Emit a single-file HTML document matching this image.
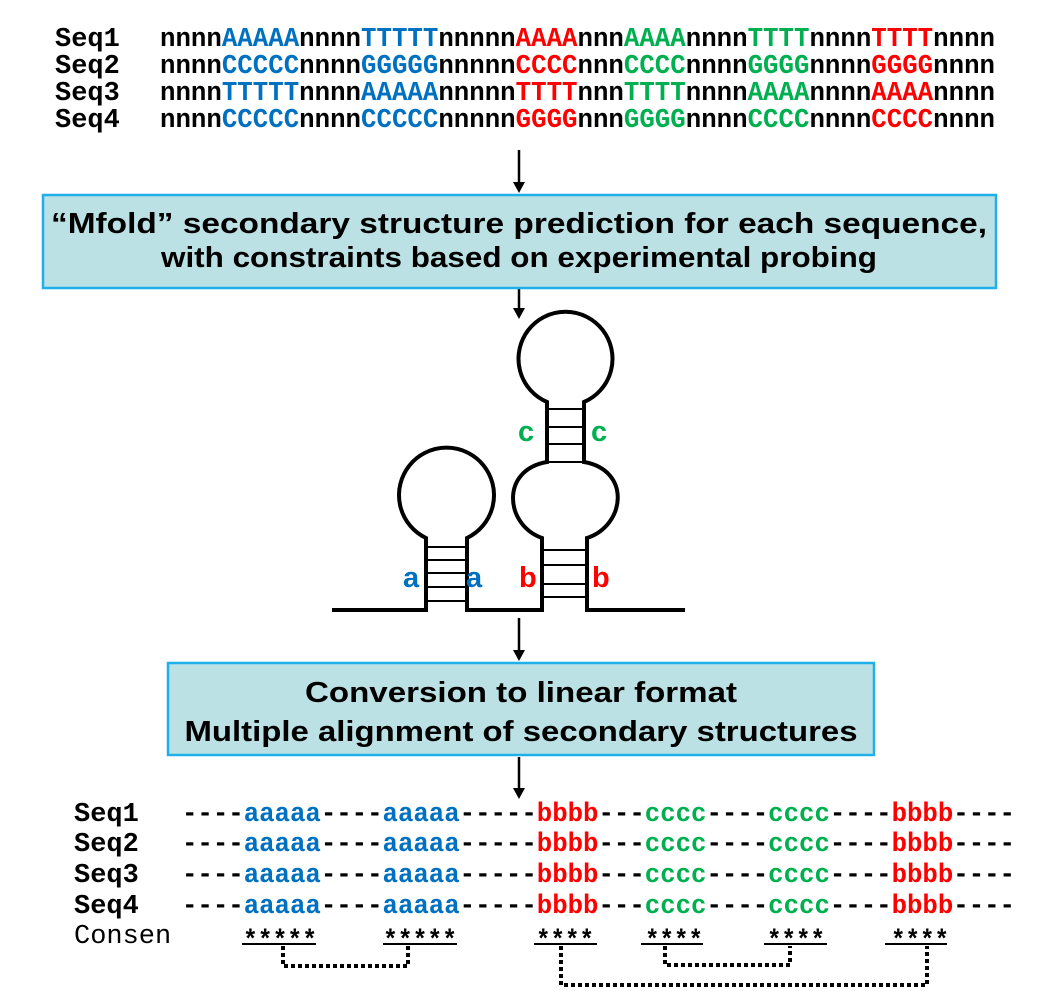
<!DOCTYPE html>
<html><head><meta charset="utf-8"><style>
html,body{margin:0;padding:0;background:#fff;}
svg{display:block;}
.m{font-family:"Liberation Mono",monospace;font-weight:bold;font-size:27px;}
.s{font-family:"Liberation Sans",sans-serif;font-weight:bold;}
.b{fill:#0070c0}.r{fill:#ff0000}.g{fill:#00b050}
</style></head><body>
<svg width="1047" height="1000" viewBox="0 0 1047 1000" xmlns="http://www.w3.org/2000/svg">
<g class="m">
<text x="55" y="46">Seq1</text><text x="55" y="73">Seq2</text><text x="55" y="100">Seq3</text><text x="55" y="127">Seq4</text>
<text x="160" y="46" textLength="835" lengthAdjust="spacingAndGlyphs">nnnn<tspan class="b">AAAAA</tspan>nnnn<tspan class="b">TTTTT</tspan>nnnnn<tspan class="r">AAAA</tspan>nnn<tspan class="g">AAAA</tspan>nnnn<tspan class="g">TTTT</tspan>nnnn<tspan class="r">TTTT</tspan>nnnn</text>
<text x="160" y="73" textLength="835" lengthAdjust="spacingAndGlyphs">nnnn<tspan class="b">CCCCC</tspan>nnnn<tspan class="b">GGGGG</tspan>nnnnn<tspan class="r">CCCC</tspan>nnn<tspan class="g">CCCC</tspan>nnnn<tspan class="g">GGGG</tspan>nnnn<tspan class="r">GGGG</tspan>nnnn</text>
<text x="160" y="100" textLength="835" lengthAdjust="spacingAndGlyphs">nnnn<tspan class="b">TTTTT</tspan>nnnn<tspan class="b">AAAAA</tspan>nnnnn<tspan class="r">TTTT</tspan>nnn<tspan class="g">TTTT</tspan>nnnn<tspan class="g">AAAA</tspan>nnnn<tspan class="r">AAAA</tspan>nnnn</text>
<text x="160" y="127" textLength="835" lengthAdjust="spacingAndGlyphs">nnnn<tspan class="b">CCCCC</tspan>nnnn<tspan class="b">CCCCC</tspan>nnnnn<tspan class="r">GGGG</tspan>nnn<tspan class="g">GGGG</tspan>nnnn<tspan class="g">CCCC</tspan>nnnn<tspan class="r">CCCC</tspan>nnnn</text>
</g>
<g stroke="#000" stroke-width="2.5">
<line x1="519" y1="150" x2="519" y2="184"/>
<line x1="519" y1="289" x2="519" y2="310"/>
<line x1="519" y1="618" x2="519" y2="652"/>
<line x1="519" y1="757" x2="519" y2="790"/>
</g>
<g fill="#000">
<polygon points="513,182 525,182 519,193"/>
<polygon points="513,308 525,308 519,319"/>
<polygon points="513,650 525,650 519,661"/>
<polygon points="513,788 525,788 519,799"/>
</g>
<rect x="43" y="195" width="953" height="93" fill="#bce1e4" stroke="#1fb0ea" stroke-width="2.5"/>
<text class="s" x="519" y="233" font-size="29" text-anchor="middle" textLength="936" lengthAdjust="spacingAndGlyphs">“Mfold” secondary structure prediction for each sequence,</text>
<text class="s" x="519" y="267" font-size="29" text-anchor="middle" textLength="716" lengthAdjust="spacingAndGlyphs">with constraints based on experimental probing</text>
<rect x="168" y="663" width="706" height="92" fill="#bce1e4" stroke="#1fb0ea" stroke-width="2.5"/>
<text class="s" x="521" y="702" font-size="29" text-anchor="middle" textLength="432" lengthAdjust="spacingAndGlyphs">Conversion to linear format</text>
<text class="s" x="521" y="741" font-size="29" text-anchor="middle" textLength="673" lengthAdjust="spacingAndGlyphs">Multiple alignment of secondary structures</text>
<g fill="none" stroke="#000" stroke-width="4">
<path d="M332,610 H426 V538 A47.5,47.5 0 1 1 467,538 V610 H542 V538 C505,525 500,470 547,462 V402 A47,47 0 1 1 584,402 V462 C631,470 626,525 587,538 V610 H685"/>
</g>
<g stroke="#000" stroke-width="2">
<line x1="426" y1="547" x2="467" y2="547"/><line x1="426" y1="560" x2="467" y2="560"/><line x1="426" y1="573" x2="467" y2="573"/><line x1="426" y1="587" x2="467" y2="587"/><line x1="426" y1="601" x2="467" y2="601"/>
<line x1="542" y1="550" x2="587" y2="550"/><line x1="542" y1="565" x2="587" y2="565"/><line x1="542" y1="584" x2="587" y2="584"/><line x1="542" y1="597" x2="587" y2="597"/>
<line x1="547" y1="409" x2="584" y2="409"/><line x1="547" y1="427" x2="584" y2="427"/><line x1="547" y1="444" x2="584" y2="444"/><line x1="547" y1="462" x2="584" y2="462"/>
</g>
<g class="s" font-size="29">
<text x="403" y="587" class="b">a</text><text x="466" y="587" class="b">a</text>
<text x="519" y="587" class="r">b</text><text x="592" y="587" class="r">b</text>
<text x="518" y="441" class="g">c</text><text x="591" y="441" class="g">c</text>
</g>
<g class="m">
<text x="74" y="821">Seq1</text><text x="74" y="851">Seq2</text><text x="74" y="882">Seq3</text><text x="74" y="913">Seq4</text><text x="74" y="943" style="font-weight:normal">Consen</text>
<text x="182" y="821" textLength="833" lengthAdjust="spacingAndGlyphs">----<tspan class="b">aaaaa</tspan>----<tspan class="b">aaaaa</tspan>-----<tspan class="r">bbbb</tspan>---<tspan class="g">cccc</tspan>----<tspan class="g">cccc</tspan>----<tspan class="r">bbbb</tspan>----</text>
<text x="182" y="851" textLength="833" lengthAdjust="spacingAndGlyphs">----<tspan class="b">aaaaa</tspan>----<tspan class="b">aaaaa</tspan>-----<tspan class="r">bbbb</tspan>---<tspan class="g">cccc</tspan>----<tspan class="g">cccc</tspan>----<tspan class="r">bbbb</tspan>----</text>
<text x="182" y="882" textLength="833" lengthAdjust="spacingAndGlyphs">----<tspan class="b">aaaaa</tspan>----<tspan class="b">aaaaa</tspan>-----<tspan class="r">bbbb</tspan>---<tspan class="g">cccc</tspan>----<tspan class="g">cccc</tspan>----<tspan class="r">bbbb</tspan>----</text>
<text x="182" y="913" textLength="833" lengthAdjust="spacingAndGlyphs">----<tspan class="b">aaaaa</tspan>----<tspan class="b">aaaaa</tspan>-----<tspan class="r">bbbb</tspan>---<tspan class="g">cccc</tspan>----<tspan class="g">cccc</tspan>----<tspan class="r">bbbb</tspan>----</text>
</g>
<g class="m" font-size="30">
<text x="243" y="948" textLength="74" lengthAdjust="spacingAndGlyphs">*****</text>
<text x="383" y="948" textLength="74" lengthAdjust="spacingAndGlyphs">*****</text>
<text x="536" y="948" textLength="58" lengthAdjust="spacingAndGlyphs">****</text>
<text x="645" y="948" textLength="58" lengthAdjust="spacingAndGlyphs">****</text>
<text x="767" y="948" textLength="58" lengthAdjust="spacingAndGlyphs">****</text>
<text x="891" y="948" textLength="58" lengthAdjust="spacingAndGlyphs">****</text>
</g>
<g stroke="#000" stroke-width="2">
<line x1="242" y1="944" x2="316" y2="944"/><line x1="383" y1="944" x2="457" y2="944"/>
<line x1="534" y1="944" x2="597" y2="944"/><line x1="641" y1="944" x2="703" y2="944"/>
<line x1="764" y1="944" x2="827" y2="944"/><line x1="885" y1="944" x2="947" y2="944"/>
</g>
<g fill="none" stroke="#000" stroke-width="4" stroke-dasharray="4,3">
<path d="M283,946 V966 H408 V946"/>
<path d="M665,946 V965 H790 V946"/>
<path d="M561,946 V985 H927 V946"/>
</g>
</svg>
</body></html>
